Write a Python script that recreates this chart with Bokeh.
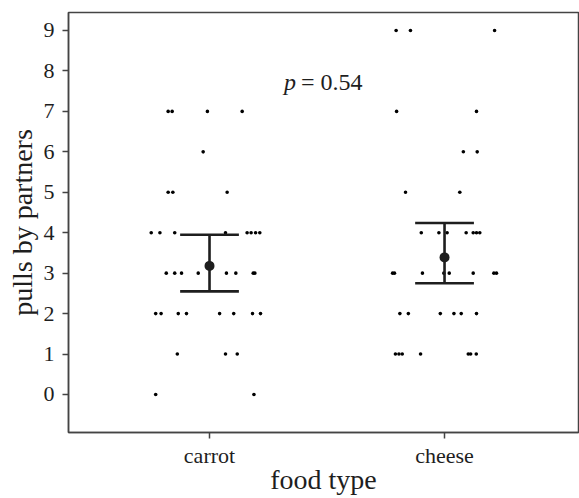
from bokeh.plotting import figure
from bokeh.models import Range1d, FixedTicker, Label
from bokeh.embed import file_html
from bokeh.resources import INLINE

# ---- data ----
categories = ["carrot", "cheese"]
category_pos = [1, 2]

carrot_pulls = [7, 7, 7, 7,
                6,
                5, 5, 5,
                4, 4, 4, 4, 4, 4, 4, 4,
                3, 3, 3, 3, 3, 3, 3, 3,
                2, 2, 2, 2, 2, 2, 2, 2,
                1, 1, 1,
                0, 0]
carrot_jitter = [-0.176, -0.159, -0.009, 0.139,
                 -0.027,
                 -0.176, -0.156, 0.075,
                 -0.248, -0.211, -0.148, 0.068, 0.160, 0.177, 0.196, 0.214,
                 -0.184, -0.148, -0.119, -0.048, 0.072, 0.112, 0.186, 0.193,
                 -0.229, -0.206, -0.133, -0.098, 0.043, 0.103, 0.183, 0.217,
                 -0.137, 0.068, 0.118,
                 -0.229, 0.189]

cheese_pulls = [9, 9, 9,
                7, 7,
                6, 6,
                5, 5,
                4, 4, 4, 4, 4, 4, 4,
                3, 3, 3, 3, 3, 3, 3, 3,
                2, 2, 2, 2, 2, 2,
                1, 1, 1, 1, 1, 1, 1]
cheese_jitter = [-0.206, -0.145, 0.213,
                 -0.204, 0.136,
                 0.080, 0.139,
                 -0.166, 0.065,
                 -0.099, -0.024, 0.011, 0.092, 0.122, 0.136, 0.150,
                 -0.221, -0.213, -0.094, -0.003, 0.020, 0.122, 0.210, 0.221,
                 -0.190, -0.154, -0.018, 0.040, 0.071, 0.136,
                 -0.209, -0.194, -0.180, -0.102, 0.101, 0.111, 0.135]

means = [3.18, 3.39]
ci_low = [2.55, 2.75]
ci_high = [3.95, 4.24]
p_value_text = "= 0.54"

y_ticks = [0, 1, 2, 3, 4, 5, 6, 7, 8, 9]

# ---- figure ----
SERIF = "Liberation Serif"
DARK = "#1e1e1e"
AXIS = "#444444"

p = figure(width=579, height=498, output_backend="svg", toolbar_location=None,
           x_range=Range1d(0.4, 2.57), y_range=Range1d(-0.94, 9.445),
           min_border_left=68, min_border_top=12, min_border_right=1,
           min_border_bottom=66)
p.background_fill_color = "white"
p.border_fill_color = "white"
p.outline_line_color = AXIS
p.outline_line_width = 1.5
p.xgrid.visible = False
p.ygrid.visible = False

# jittered raw points
cx = [category_pos[0] + j for j in carrot_jitter]
hx = [category_pos[1] + j for j in cheese_jitter]
p.scatter(cx, carrot_pulls, size=3.6, color="black", line_color=None)
p.scatter(hx, cheese_pulls, size=3.6, color="black", line_color=None)

# error bars
cap = 0.125
p.segment(x0=category_pos, y0=ci_low, x1=category_pos, y1=ci_high,
          line_color=DARK, line_width=2.6)
p.segment(x0=[c - cap for c in category_pos], y0=ci_low,
          x1=[c + cap for c in category_pos], y1=ci_low,
          line_color=DARK, line_width=2.6)
p.segment(x0=[c - cap for c in category_pos], y0=ci_high,
          x1=[c + cap for c in category_pos], y1=ci_high,
          line_color=DARK, line_width=2.6)
p.scatter(category_pos, means, size=10, color=DARK, line_color=None)

# p-value annotation
p.add_layout(Label(x=1.5, y=8, x_offset=-31, y_offset=-11, text="p",
                   text_font=SERIF, text_font_style="italic",
                   text_font_size="24px", text_color=DARK,
                   text_align="right", text_baseline="alphabetic"))
p.add_layout(Label(x=1.5, y=8, x_offset=-26, y_offset=-11, text=p_value_text,
                   text_font=SERIF, text_font_size="24px", text_color=DARK,
                   text_align="left", text_baseline="alphabetic"))

# axes
p.xaxis.ticker = FixedTicker(ticks=category_pos)
p.xaxis.major_label_overrides = {c: n for c, n in zip(category_pos, categories)}
p.yaxis.ticker = FixedTicker(ticks=y_ticks)
p.xaxis.axis_label = "food type"
p.yaxis.axis_label = "pulls by partners"

for ax in (p.xaxis, p.yaxis):
    ax.axis_line_color = AXIS
    ax.axis_line_width = 1.5
    ax.major_tick_line_color = AXIS
    ax.major_tick_line_width = 1.5
    ax.major_tick_in = 0
    ax.major_tick_out = 6
    ax.minor_tick_line_color = None
    ax.major_label_text_font = SERIF
    ax.major_label_text_font_size = "22px"
    ax.major_label_text_color = DARK
    ax.axis_label_text_font = SERIF
    ax.axis_label_text_font_style = "normal"
    ax.axis_label_text_color = DARK

p.xaxis.major_label_standoff = 4
p.xaxis.axis_label_text_font_size = "28px"
p.xaxis.axis_label_standoff = -7
p.yaxis.major_label_standoff = 8
p.yaxis.axis_label_text_font_size = "28px"
p.yaxis.axis_label_standoff = 3

open("out.html", "w").write(file_html(p, INLINE))
